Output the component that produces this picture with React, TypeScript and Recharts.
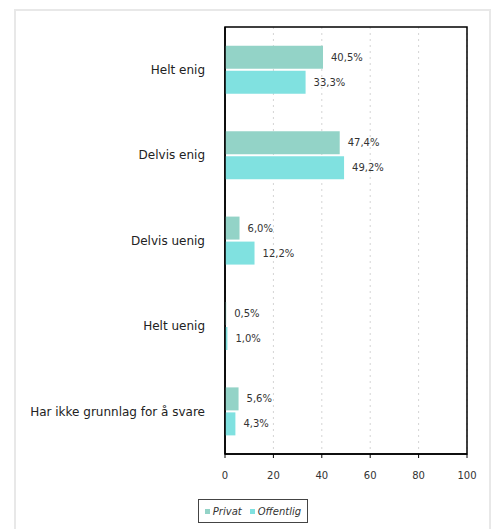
import React from "react";
import {
  BarChart,
  Bar,
  XAxis,
  YAxis,
  CartesianGrid,
  LabelList,
  ReferenceArea,
} from "recharts";

const categories = [
  "Helt enig",
  "Delvis enig",
  "Delvis uenig",
  "Helt uenig",
  "Har ikke grunnlag for å svare",
];
const privat = [40.5, 47.4, 6.0, 0.5, 5.6];
const offentlig = [33.3, 49.2, 12.2, 1.0, 4.3];
const xTicks = [0, 20, 40, 60, 80, 100];
const seriesNames = ["Privat", "Offentlig"];
const colors = ["#93d3c7", "#80e1e0"];

const data = categories.map((c, i) => ({
  name: c,
  privat: privat[i],
  offentlig: offentlig[i],
}));

const FONT = "'DejaVu Sans', Verdana, sans-serif";

const fmt = (v: any) => Number(v).toFixed(1).replace(".", ",") + "%";

export default function App() {
  return (
    <div
      style={{
        position: "absolute",
        left: 0,
        top: 0,
        width: 497,
        height: 529,
        overflow: "hidden",
        background: "#fff",
        fontFamily: FONT,
      }}
    >
      <div
        style={{
          position: "absolute",
          left: 14,
          top: 9,
          width: 477,
          height: 540,
          border: "2px solid #e8e8e8",
          boxSizing: "border-box",
        }}
      />
      <div style={{ position: "absolute", left: 0, top: 0 }}>
        <BarChart
          width={497}
          height={529}
          data={data}
          layout="vertical"
          margin={{ top: 27, right: 30, bottom: 45, left: 0 }}
          barCategoryGap="22%"
          barGap={2}
        >
          <CartesianGrid
            horizontal={false}
            stroke="#d4d4d4"
            strokeDasharray="2 4"
          />
          <XAxis
            type="number"
            domain={[0, 100]}
            ticks={xTicks}
            height={30}
            axisLine={{ stroke: "#000", strokeWidth: 1.5 }}
            tickLine={{ stroke: "#000" }}
            tickSize={4}
            tickMargin={14}
            tick={{ fontSize: 10, fill: "#333", fontFamily: FONT }}
          />
          <YAxis
            type="category"
            dataKey="name"
            width={225}
            axisLine={{ stroke: "#000", strokeWidth: 1.5 }}
            tickLine={false}
            tickMargin={14}
            tick={{ fontSize: 12, fill: "#222", fontFamily: FONT }}
          />
          <ReferenceArea
            x1={0}
            x2={100}
            fill="none"
            fillOpacity={0}
            stroke="#000"
            strokeWidth={1.5}
          />
          <Bar
            dataKey="privat"
            name={seriesNames[0]}
            fill={colors[0]}
            isAnimationActive={false}
          >
            <LabelList
              dataKey="privat"
              position="right"
              offset={8}
              formatter={fmt}
              style={{ fontSize: 10, fill: "#333", fontFamily: FONT }}
            />
          </Bar>
          <Bar
            dataKey="offentlig"
            name={seriesNames[1]}
            fill={colors[1]}
            isAnimationActive={false}
          >
            <LabelList
              dataKey="offentlig"
              position="right"
              offset={8}
              formatter={fmt}
              style={{ fontSize: 10, fill: "#333", fontFamily: FONT }}
            />
          </Bar>
        </BarChart>
      </div>
      <div
        style={{
          position: "absolute",
          left: 198,
          top: 499,
          width: 110,
          height: 24,
          border: "1px solid #444",
          boxSizing: "border-box",
          display: "flex",
          alignItems: "center",
          justifyContent: "center",
          gap: 8,
          fontSize: 10,
          fontStyle: "italic",
          color: "#333",
        }}
      >
        {seriesNames.map((n, i) => (
          <span key={n} style={{ display: "flex", alignItems: "center" }}>
            <span
              style={{
                display: "inline-block",
                width: 5,
                height: 5,
                background: colors[i],
                marginRight: 3,
              }}
            />
            {n}
          </span>
        ))}
      </div>
    </div>
  );
}
